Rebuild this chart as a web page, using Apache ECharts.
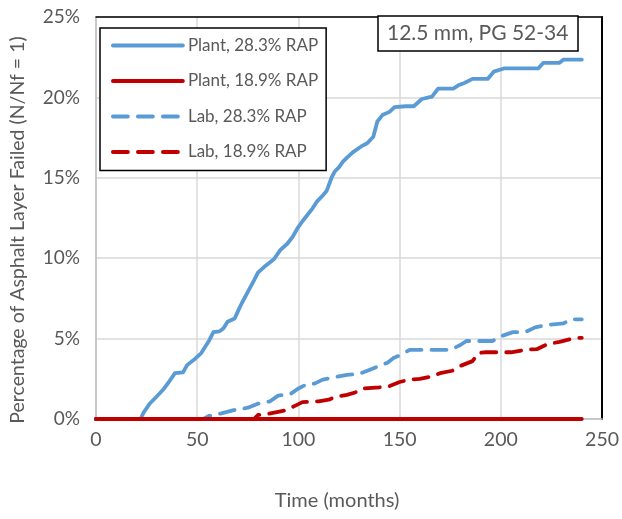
<!DOCTYPE html>
<html>
<head>
<meta charset="utf-8">
<script src="https://cdn.jsdelivr.net/npm/echarts@6/dist/echarts.min.js"></script>
<style>html,body{margin:0;padding:0;background:#fff;}#c{width:622px;height:519px;}</style>
</head>
<body>
<div id="c"></div>
<script>
const seriesNames = ['Plant, 28.3% RAP', 'Plant, 18.9% RAP', 'Lab, 28.3% RAP', 'Lab, 18.9% RAP'];
const xTicks = [0, 50, 100, 150, 200, 250];
const yTicks = [0, 5, 10, 15, 20, 25];
const annotation = '12.5 mm, PG 52-34';

// [months, percent]
const plant283 = [[0,0],[22,0],[23.5,0.4],[26.5,0.95],[30,1.4],[33,1.8],[36,2.3],[39,2.85],[43,2.9],[45,3.35],[49,3.75],[52,4.1],[56,4.9],[58,5.4],[61,5.45],[63,5.65],[65,6.05],[68.5,6.25],[70.5,6.8],[72,7.2],[75,7.9],[78,8.6],[80,9.1],[83,9.45],[86,9.75],[88,9.95],[91,10.5],[94.5,10.9],[97,11.3],[99.5,11.85],[102,12.3],[104.5,12.7],[107,13.1],[109,13.5],[112,13.9],[114,14.2],[116.5,15.05],[118,15.4],[120,15.65],[122,16.0],[124,16.25],[127,16.6],[131,16.95],[134,17.15],[137,17.55],[139,18.5],[141.5,18.9],[145,19.1],[147.5,19.4],[153,19.45],[157,19.45],[161,19.9],[166,20.05],[169,20.55],[176.5,20.55],[179,20.75],[182,20.9],[186,21.15],[193.5,21.15],[196.5,21.6],[201.5,21.8],[218.5,21.8],[221,22.15],[229,22.15],[231,22.35],[240,22.35]];
const plant189 = [[0,0],[240,0]];
const lab283 = [[0,0],[53,0],[56,0.2],[62,0.35],[68,0.55],[75,0.7],[80,0.95],[86,1.1],[90,1.45],[96,1.55],[100,1.9],[104,2.15],[108,2.2],[112,2.45],[118,2.6],[124,2.75],[130,2.8],[135,3.05],[139,3.25],[144,3.5],[147,3.8],[150,3.95],[155,4.3],[165,4.3],[175,4.3],[180,4.6],[183,4.85],[196,4.85],[199,5.1],[206,5.4],[212,5.4],[217,5.7],[223,5.85],[231,5.95],[235,6.2],[240,6.2]];
const lab189 = [[0,0],[78,0],[80,0.25],[84,0.3],[90,0.45],[94,0.55],[98,0.8],[102,1.05],[110,1.1],[115,1.2],[119,1.4],[124,1.5],[128,1.65],[132,1.9],[140,1.97],[145,2.05],[150,2.3],[155,2.45],[160,2.5],[166,2.65],[170,2.85],[176,3.0],[180,3.3],[186,3.6],[189,4.1],[192,4.15],[205,4.15],[212,4.3],[218,4.35],[223,4.65],[229,4.8],[234,4.95],[238,5.05],[240,5.05]];

const FONT = 'Lato';
const TXT = '#595959';
const BLUE = '#5B9BD5';
const RED = '#C00000';

const chart = echarts.init(document.getElementById('c'), null, {renderer: 'canvas'});
function mk(name, data, color, dashed, z) {
  return {
    name: name, type: 'line', data: data, showSymbol: false, symbol: 'none',
    smooth: false, z: z, animation: false,
    lineStyle: {color: color, width: 3.8, type: dashed ? [15, 10] : 'solid', cap: 'round', join: 'round'},
    itemStyle: {color: color}
  };
}
chart.setOption({
  animation: false,
  backgroundColor: '#fff',
  textStyle: {fontFamily: FONT},
  title: {
    text: annotation, left: 378, top: 16,
    backgroundColor: '#fff', borderColor: '#000', borderWidth: 1.5,
    padding: [7, 10, 7, 9],
    textStyle: {fontFamily: FONT, fontSize: 21, fontWeight: 'normal', color: TXT}
  },
  legend: {
    data: seriesNames, orient: 'vertical', left: 100, top: 28,
    backgroundColor: '#fff', borderColor: '#000', borderWidth: 1.5,
    padding: [9, 8, 10, 11], itemWidth: 70, itemHeight: 16, itemGap: 18.5,
    itemStyle: {opacity: 0},
    lineStyle: {width: 3.8, cap: 'round'},
    textStyle: {fontFamily: FONT, fontSize: 17, color: TXT, lineHeight: 16}
  },
  grid: {left: 95.5, right: 13, top: 17, bottom: 100, show: false},
  xAxis: [{
    type: 'value', min: 0, max: 250, interval: 50,
    name: 'Time (months)', nameLocation: 'middle', nameGap: 72,
    nameTextStyle: {fontFamily: FONT, fontSize: 20, color: TXT, padding: [0, 24, 0, 0]},
    axisLine: {show: true, lineStyle: {color: '#bfbfbf', width: 1.5}},
    axisTick: {show: false},
    axisLabel: {fontFamily: FONT, fontSize: 19.5, color: TXT, margin: 11,
      formatter: v => xTicks.includes(v) ? String(v) : ''},
    splitLine: {show: true, lineStyle: {color: '#d9d9d9', width: 1.5}}
  }, {
    type: 'value', min: 0, max: 250, interval: 50, position: 'top',
    axisLine: {show: true, onZero: false, lineStyle: {color: '#000', width: 1.5}},
    axisTick: {show: false}, axisLabel: {show: false}, splitLine: {show: false}
  }],
  yAxis: [{
    type: 'value', min: 0, max: 25, interval: 5,
    name: 'Percentage of Asphalt Layer Failed (N/Nf = 1)', nameLocation: 'middle', nameGap: 68,
    nameTextStyle: {fontFamily: FONT, fontSize: 19.5, color: TXT, padding: [0, 24, 0, 0]},
    axisLine: {show: true, lineStyle: {color: '#bfbfbf', width: 1.5}},
    axisTick: {show: false},
    axisLabel: {fontFamily: FONT, fontSize: 19, color: TXT, margin: 16,
      formatter: v => yTicks.includes(v) ? v + '%' : ''},
    splitLine: {show: true, lineStyle: {color: '#d9d9d9', width: 1.5}}
  }, {
    type: 'value', min: 0, max: 25, interval: 5, position: 'right',
    axisLine: {show: true, onZero: false, lineStyle: {color: '#000', width: 2}},
    axisTick: {show: false}, axisLabel: {show: false}, splitLine: {show: false}
  }],
  series: [
    mk(seriesNames[0], plant283, BLUE, false, 2),
    mk(seriesNames[2], lab283, BLUE, true, 3),
    mk(seriesNames[1], plant189, RED, false, 4),
    mk(seriesNames[3], lab189, RED, true, 5)
  ]
});
</script>
</body>
</html>
